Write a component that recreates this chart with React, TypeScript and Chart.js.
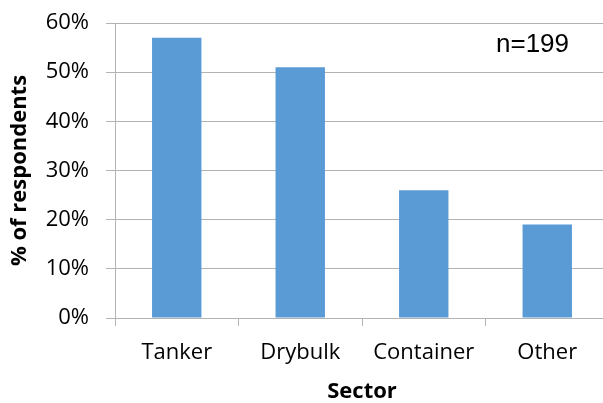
import React, { useEffect, useRef } from "react";
import { Chart, registerables } from "chart.js";

Chart.register(...registerables);

const categories = ["Tanker", "Drybulk", "Container", "Other"];
const shares = [57, 51, 26, 19];
const yTicks = [0, 10, 20, 30, 40, 50, 60];
const note = "n=199";

const GRID = "#B3B3B3";
const FONT = "'Open Sans', sans-serif";

const notePlugin = {
  id: "note",
  afterDraw(chart: any) {
    const { ctx, chartArea } = chart;
    ctx.save();
    ctx.font = "26px 'Liberation Sans', Arial, sans-serif";
    ctx.fillStyle = "#000";
    ctx.textAlign = "left";
    ctx.textBaseline = "alphabetic";
    ctx.fillText(note, chartArea.right - 113, chartArea.top + 29);
    ctx.restore();
  },
};

export default function App() {
  const ref = useRef<HTMLCanvasElement>(null);
  useEffect(() => {
    if (!ref.current) return;
    const chart = new Chart(ref.current, {
      type: "bar",
      data: {
        labels: categories,
        datasets: [
          {
            data: shares,
            backgroundColor: "#5B9BD5",
            borderWidth: 0,
            categoryPercentage: 1,
            barPercentage: 0.4,
          },
        ],
      },
      options: {
        animation: false,
        responsive: false,
        devicePixelRatio: 1,
        layout: { padding: { top: 23, right: 3, left: 0, bottom: 0 } },
        plugins: { legend: { display: false }, tooltip: { enabled: false } },
        scales: {
          x: {
            grid: {
              offset: true,
              drawOnChartArea: false,
              color: GRID,
              tickLength: 8,
            },
            border: { color: GRID, width: 1 },
            ticks: {
              color: "#000",
              font: { family: FONT, size: 22 },
              padding: 14,
              maxRotation: 0,
            },
            title: {
              display: true,
              text: "Sector",
              color: "#000",
              font: { family: FONT, size: 22, weight: "bold", lineHeight: 1.0 },
              padding: { top: 0, bottom: 0 },
            },
            afterFit(scale: any) {
              scale.height = 85;
              scale.paddingLeft = 0;
              scale.paddingRight = 0;
            },
          },
          y: {
            min: 0,
            max: 60,
            afterBuildTicks(scale: any) {
              scale.ticks = yTicks.map((v) => ({ value: v }));
            },
            grid: { color: GRID, tickLength: 9 },
            border: { color: GRID, width: 1 },
            ticks: {
              color: "#000",
              font: { family: FONT, size: 22 },
              padding: 17,
              callback: (v: any) => v + "%",
            },
            title: {
              display: true,
              text: "% of respondents",
              color: "#000",
              font: { family: FONT, size: 22, weight: "bold" },
              padding: { top: 7, bottom: 0 },
            },
            afterFit(scale: any) {
              scale.width = 115;
              scale.paddingTop = 0;
              scale.paddingBottom = 0;
            },
          },
        },
      },
      plugins: [notePlugin],
    });
    return () => chart.destroy();
  }, []);
  return (
    <div
      style={{
        position: "fixed",
        left: 0,
        top: 0,
        width: 603,
        height: 403,
        overflow: "hidden",
        background: "#fff",
      }}
    >
      <canvas ref={ref} width={612} height={403} style={{ display: "block" }} />
    </div>
  );
}
